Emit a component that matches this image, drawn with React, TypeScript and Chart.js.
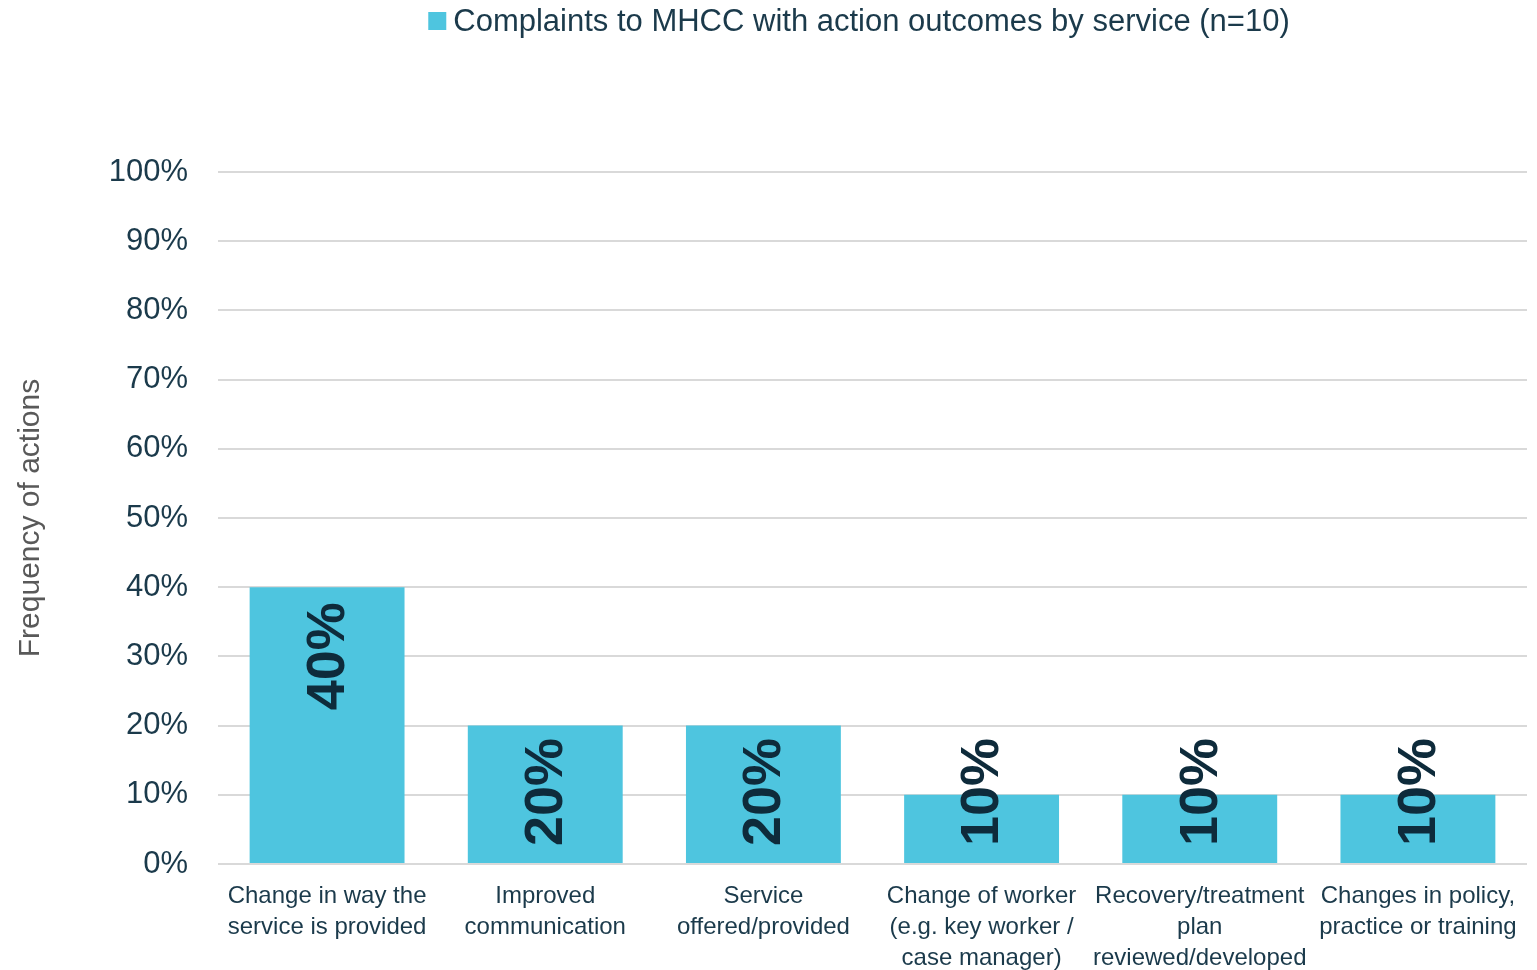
import React, { useEffect, useRef } from "react";
import { Chart, registerables } from "chart.js";

Chart.register(...registerables);

const categories: string[][] = [
  ["Change in way the", "service is provided"],
  ["Improved", "communication"],
  ["Service", "offered/provided"],
  ["Change of worker", "(e.g. key worker /", "case manager)"],
  ["Recovery/treatment", "plan", "reviewed/developed"],
  ["Changes in policy,", "practice or training"],
];
const values: number[] = [40, 20, 20, 10, 10, 10];
const seriesLabel = "Complaints to MHCC with action outcomes by service (n=10)";
const yAxisTitle = "Frequency of actions";
const yMin = 0;
const yMax = 100;
const yStep = 10;

const FONT = "'Liberation Sans', Arial, Helvetica, sans-serif";
const BAR_COLOR = "#4EC5DF";
const LABEL_COLOR = "#0E2B3B";
const TICK_COLOR = "#1B3A4B";

const barLabelPlugin = {
  id: "barLabels",
  afterDatasetsDraw(chart: any) {
    const ctx = chart.ctx;
    const meta = chart.getDatasetMeta(0);
    const data = chart.data.datasets[0].data as number[];
    ctx.save();
    ctx.font = `bold 54px ${FONT}`;
    ctx.fillStyle = LABEL_COLOR;
    ctx.textAlign = "left";
    ctx.textBaseline = "middle";
    meta.data.forEach((bar: any, i: number) => {
      const text = `${data[i]}%`;
      const w = ctx.measureText(text).width;
      const topY = Math.min(bar.y + 15, bar.base - 17 - w);
      ctx.save();
      ctx.translate(bar.x + 2, topY + w);
      ctx.rotate(-Math.PI / 2);
      ctx.fillText(text, 0, 0);
      ctx.restore();
    });
    ctx.restore();
  },
};

const legendPlugin = {
  id: "customLegend",
  afterDraw(chart: any) {
    const ctx = chart.ctx;
    const text = chart.data.datasets[0].label as string;
    ctx.save();
    ctx.font = `31px ${FONT}`;
    const tw = ctx.measureText(text).width;
    const box = 18;
    const gap = 7;
    const total = box + gap + tw;
    const cx = 859;
    const cy = 21;
    const x0 = cx - total / 2;
    ctx.fillStyle = BAR_COLOR;
    ctx.fillRect(x0, cy - box / 2, box, box);
    ctx.fillStyle = TICK_COLOR;
    ctx.textAlign = "left";
    ctx.textBaseline = "middle";
    ctx.fillText(text, x0 + box + gap, cy + 1);
    ctx.restore();
  },
};

export default function App() {
  const canvasRef = useRef<HTMLCanvasElement | null>(null);

  useEffect(() => {
    document.body.style.margin = "0";
    if (!canvasRef.current) return;
    const chart = new Chart(canvasRef.current, {
      type: "bar",
      data: {
        labels: categories,
        datasets: [
          {
            label: seriesLabel,
            data: values,
            backgroundColor: BAR_COLOR,
            borderWidth: 0,
            categoryPercentage: 1,
            barPercentage: 0.71,
          },
        ],
      },
      options: {
        animation: false,
        responsive: true,
        maintainAspectRatio: false,
        layout: { padding: { top: 172, right: 10, left: 0, bottom: 0 } },
        plugins: {
          legend: { display: false },
          tooltip: { enabled: false },
        },
        scales: {
          x: {
            grid: { display: false, drawTicks: false },
            border: { display: false },
            ticks: {
              color: TICK_COLOR,
              font: { family: FONT, size: 24, lineHeight: 1.29 },
              padding: 17,
              maxRotation: 0,
              minRotation: 0,
              autoSkip: false,
            },
            afterFit: (scale: any) => {
              scale.height = 106;
            },
          },
          y: {
            min: yMin,
            max: yMax,
            grid: { color: "#D9D9D9", lineWidth: 2, drawTicks: false },
            border: { display: false },
            ticks: {
              stepSize: yStep,
              color: TICK_COLOR,
              font: { family: FONT, size: 31 },
              padding: 30,
              callback: (v: any) => `${v}%`,
            },
            title: {
              display: true,
              text: yAxisTitle,
              color: "#595959",
              font: { family: FONT, size: 30 },
              padding: { top: 13, bottom: 0 },
            },
            afterFit: (scale: any) => {
              scale.width = 218;
            },
          },
        },
      },
      plugins: [barLabelPlugin, legendPlugin],
    });
    return () => chart.destroy();
  }, []);

  return (
    <div style={{ position: "relative", width: "1537px", height: "970px" }}>
      <canvas ref={canvasRef} />
    </div>
  );
}
